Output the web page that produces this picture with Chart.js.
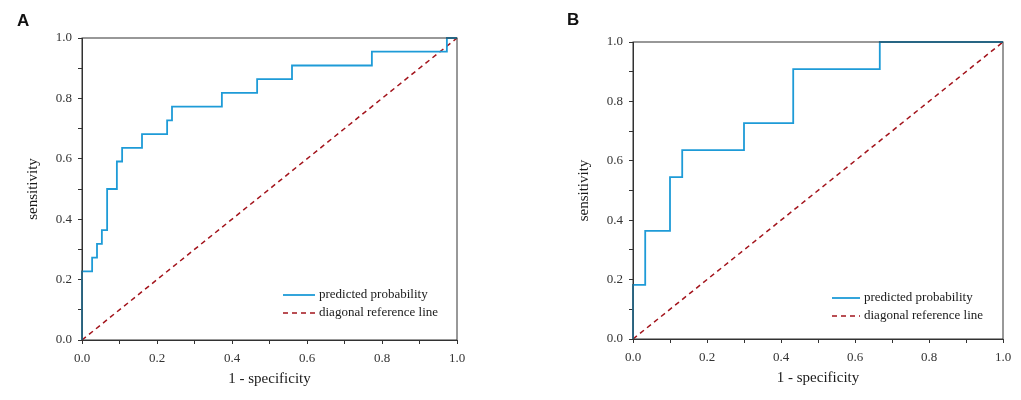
<!DOCTYPE html>
<html>
<head>
<meta charset="utf-8">
<script src="https://cdn.jsdelivr.net/npm/chart.js@4"></script>
<style>
  html, body { margin: 0; padding: 0; background: #fff; }
  body { width: 1021px; height: 400px; position: relative; overflow: hidden; }
  .panel { position: absolute; top: 0; height: 400px; }
  .tag { position: absolute; font: bold 17px "Liberation Sans", Arial, sans-serif; color: #111; }
</style>
</head>
<body>
<div class="panel" style="left:0;width:510px"><canvas id="roc-a"></canvas></div>
<div class="panel" style="left:510px;width:511px"><canvas id="roc-b"></canvas></div>
<div class="tag" style="left:17px;top:11px">A</div>
<div class="tag" style="left:567px;top:10px">B</div>
<script>
// panel A: roc corners (1 - specificity, sensitivity)
const fprA = [0, 0, 0.027, 0.040, 0.053, 0.067, 0.093, 0.107, 0.160, 0.227, 0.240, 0.373, 0.467, 0.560, 0.773, 0.973, 1];
const tprA = [0, 0.227, 0.273, 0.318, 0.364, 0.500, 0.591, 0.636, 0.682, 0.727, 0.773, 0.818, 0.864, 0.909, 0.955, 1, 1];

// panel B
const fprB = [0, 0, 0.033, 0.100, 0.133, 0.300, 0.433, 0.667, 1];
const tprB = [0, 0.182, 0.364, 0.545, 0.636, 0.727, 0.909, 1, 1];

const diagX = [0, 1];
const diagY = [0, 1];

const seriesNames = ["predicted probability", "diagonal reference line"];
const xTitle = "1 - specificity";
const yTitle = "sensitivity";

const serif = "'Liberation Serif', 'Times New Roman', serif";

const boxLegend = {
  id: "boxLegend",
  afterDraw(chart, args, opts) {
    const { ctx, chartArea } = chart;
    ctx.save();
    ctx.strokeStyle = "#333";
    ctx.lineWidth = 1;
    ctx.strokeRect(chartArea.left, chartArea.top, chartArea.right - chartArea.left, chartArea.bottom - chartArea.top);

    chart.data.datasets.forEach((ds, i) => {
      const y = opts.y + i * opts.rowGap;
      ctx.beginPath();
      ctx.strokeStyle = ds.borderColor;
      ctx.lineWidth = ds.borderWidth;
      ctx.setLineDash(ds.borderDash || []);
      ctx.moveTo(opts.x, y);
      ctx.lineTo(opts.x + opts.len, y);
      ctx.stroke();
      ctx.setLineDash([]);
      ctx.fillStyle = "#1a1a1a";
      ctx.font = "13px " + serif;
      ctx.textBaseline = "middle";
      ctx.fillText(ds.label, opts.x + opts.len + 4, y);
    });
    ctx.restore();
  }
};

function tickLabel(v) {
  const k = Math.round(v * 10);
  return k % 2 === 0 ? (k / 10).toFixed(1) : "";
}

function axis(title, fit, titlePad, tickPad) {
  return {
    type: "linear",
    min: 0,
    max: 1,
    afterFit: fit,
    border: { display: true, color: "#333", width: 1 },
    grid: { display: true, drawOnChartArea: false, drawTicks: true, tickLength: 4, color: "#333" },
    ticks: {
      stepSize: 0.1,
      autoSkip: false,
      maxRotation: 0,
      padding: tickPad,
      color: "#333",
      font: { family: serif, size: 13 },
      callback: tickLabel
    },
    title: {
      display: true,
      text: title,
      color: "#1a1a1a",
      font: { family: serif, size: 15 },
      padding: titlePad
    }
  };
}

function makeRoc(id, fpr, tpr, pad, legend) {
  const ctx = document.getElementById(id).getContext("2d");
  return new Chart(ctx, {
    type: "scatter",
    data: {
      datasets: [{
        label: seriesNames[0],
        data: fpr.map((x, i) => ({ x: x, y: tpr[i] })),
        showLine: true,
        stepped: "before",
        borderColor: "#1e9bd7",
        borderWidth: 1.8,
        pointRadius: 0,
        clip: 2
      }, {
        label: seriesNames[1],
        data: diagX.map((x, i) => ({ x: x, y: diagY[i] })),
        showLine: true,
        borderColor: "#a3141c",
        borderWidth: 1.5,
        borderDash: [5, 4],
        pointRadius: 0,
        clip: 2
      }]
    },
    options: {
      responsive: true,
      maintainAspectRatio: false,
      animation: false,
      layout: { padding: pad },
      plugins: {
        legend: { display: false },
        tooltip: { enabled: false },
        boxLegend: legend
      },
      scales: {
        x: axis(xTitle, s => { s.height = 60; }, { top: 0, bottom: 12 }, 7),
        y: axis(yTitle, s => { s.width = 82; }, { top: 24, bottom: 0 }, 6)
      }
    },
    plugins: [boxLegend]
  });
}

makeRoc("roc-a", fprA, tprA, { left: 0, right: 53, top: 38, bottom: 0 },
  { x: 283, y: 295, len: 32, rowGap: 18 });
makeRoc("roc-b", fprB, tprB, { left: 41, right: 18, top: 42, bottom: 1 },
  { x: 322, y: 298, len: 28, rowGap: 18 });
</script>
</body>
</html>
